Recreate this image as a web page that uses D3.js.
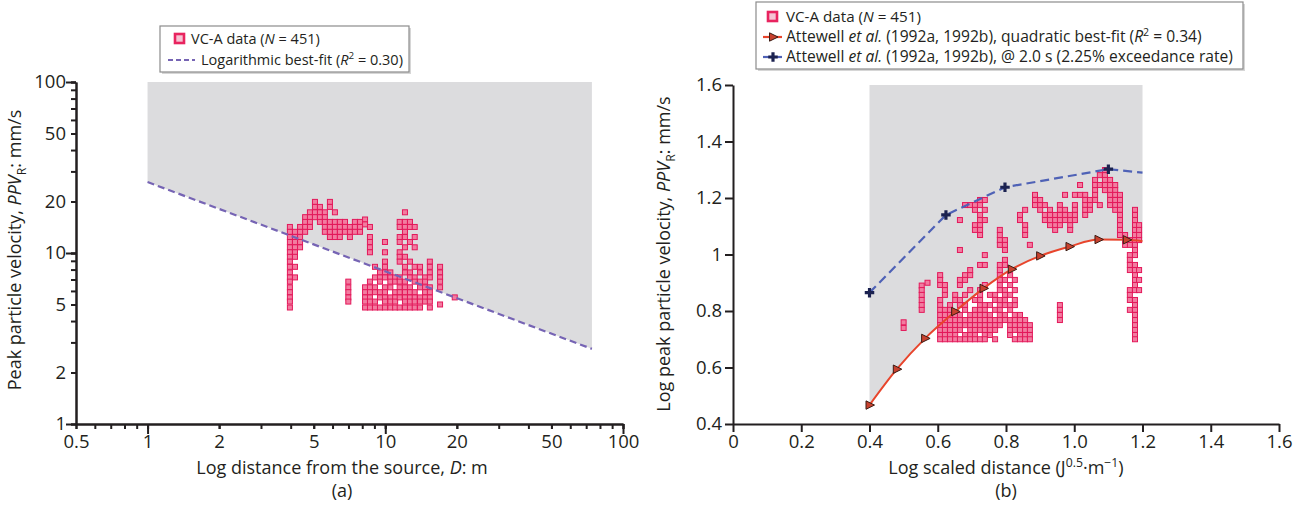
<!DOCTYPE html>
<html><head><meta charset="utf-8">
<script src="https://cdn.jsdelivr.net/npm/d3@7"></script>
<style>
body{margin:0;background:#fff;}
svg{font-family:"Open Sans",sans-serif;}
</style></head><body>
<svg id="c" width="1301" height="508"></svg>
<script>
// ---------- DATA ----------
const leftXTicks = [0.5, 1, 2, 5, 10, 20, 50, 100];
const leftYTicks = [1, 2, 5, 10, 20, 50, 100];
const rightXTicks = [0, 0.2, 0.4, 0.6, 0.8, 1.0, 1.2, 1.4, 1.6];
const rightXLabels = ["0", "0.2", "0.4", "0.6", "0.8", "1.0", "1.2", "1.4", "1.6"];
const rightYTicks = [0.4, 0.6, 0.8, 1, 1.2, 1.4, 1.6];
const rightYLabels = ["0.4", "0.6", "0.8", "1", "1.2", "1.4", "1.6"];

// (a) logarithmic best fit end points [D, PPV]
const leftFit = [[1, 26], [74, 2.75]];
// (a) VC-A data grouped by distance column: [D, [PPV...]]
const leftColumns = [
  [3.97, [14.2, 13.3, 12.4, 11.6, 10.8, 10.1, 9.5, 8.9, 8.3, 7.7, 7.2, 6.8, 6.3, 5.9, 5.5, 5.2, 4.8]],
  [4.17, [13.3, 12.4, 11.6, 10.8, 10.1, 9.5, 8.3, 7.2]],
  [4.38, [14.2, 13.3, 12.4, 11.6, 10.8]],
  [4.60, [16.2, 15.2, 14.2, 13.3]],
  [4.82, [17.3, 16.2, 15.2, 14.2]],
  [5.06, [19.9, 18.6, 17.3, 16.2]],
  [5.31, [18.6, 17.3, 16.2, 15.2]],
  [5.57, [17.3, 16.2, 15.2, 14.2, 13.3]],
  [5.85, [19.9, 18.6, 15.2, 14.2, 13.3, 12.4]],
  [6.14, [17.3, 15.2, 14.2, 13.3, 12.4]],
  [6.44, [15.2, 14.2, 13.3, 12.4]],
  [6.77, [15.2, 14.2, 13.3]],
  [6.99, [6.8, 6.3, 5.9, 5.5, 5.2]],
  [7.10, [14.2, 13.3, 12.4]],
  [7.45, [15.2, 14.2, 13.3]],
  [7.83, [15.2, 14.2, 13.3]],
  [8.22, [15.7, 14.7, 6.3, 5.9, 5.5, 5.2, 4.8]],
  [8.62, [14.2, 12.4, 11.6, 10.8, 10.1, 6.8, 6.3, 5.9, 5.5, 5.2, 4.8]],
  [9.05, [8.3, 7.2, 6.3, 5.9, 5.2, 4.8]],
  [9.50, [7.7, 7.2, 6.8, 5.9, 5.5, 4.8]],
  [9.97, [11.6, 10.1, 8.9, 8.3, 7.7, 7.2, 6.3, 5.9, 5.5, 5.2, 4.8]],
  [10.5, [7.7, 7.2, 6.8, 6.3, 5.5, 5.2, 4.8]],
  [11.0, [7.2, 6.8, 5.9, 5.5, 5.2, 4.8]],
  [11.5, [15.2, 14.2, 12.4, 11.6, 10.1, 9.5, 8.9, 7.2, 6.8, 6.3, 5.9, 5.5, 4.8]],
  [12.1, [17.3, 15.2, 14.2, 13.3, 12.4, 10.8, 9.5, 8.3, 7.7, 6.8, 6.3, 5.9, 5.5, 5.2, 4.8]],
  [12.7, [15.2, 14.2, 11.6, 8.9, 7.7, 7.2, 6.3, 5.9, 5.5, 5.2, 4.8]],
  [13.3, [14.2, 12.4, 10.8, 8.3, 7.2, 6.8, 5.9, 5.5, 5.2, 4.8]],
  [14.0, [8.3, 7.7, 6.8, 6.3, 5.5, 5.2, 4.8]],
  [14.7, [7.2, 6.8, 6.3, 5.9, 5.5, 5.2]],
  [15.4, [8.9, 8.3, 7.7, 7.2, 6.3, 5.9, 5.5, 5.2, 4.8]],
  [17.0, [8.3, 7.7, 7.2, 6.8, 6.3, 5.0]],
  [19.6, [5.5]]
];

// (b) Attewell quadratic best fit (markers) and end point
const quadFit = [[0.4, 0.467], [0.48, 0.594], [0.563, 0.703], [0.651, 0.798], [0.734, 0.88],
  [0.817, 0.948], [0.9, 0.995], [0.986, 1.028], [1.071, 1.053], [1.154, 1.052], [1.2, 1.047]];
const quadMarkers = 10; // first 10 points carry markers
// (b) Attewell @ 2.0 s (2.25% exceedance)
const exceed = [[0.4, 0.865], [0.624, 1.14], [0.797, 1.238], [1.1, 1.302], [1.2, 1.29]];
const exceedMarkers = 4;
// (b) VC-A data grouped by scaled-distance column: [x, [logPPV...]]
const rightColumns = [
  [0.50, [0.76, 0.74]],
  [0.553, [0.89, 0.874, 0.857, 0.839, 0.821, 0.804]],
  [0.57, [0.90]],
  [0.607, [0.927, 0.91, 0.892, 0.839, 0.821, 0.804, 0.786, 0.768, 0.75, 0.733, 0.715, 0.70]],
  [0.621, [0.892, 0.874, 0.857, 0.804, 0.786, 0.768, 0.75, 0.733, 0.715, 0.70]],
  [0.636, [0.821, 0.804, 0.786, 0.768, 0.75, 0.733, 0.715, 0.70]],
  [0.651, [0.857, 0.839, 0.786, 0.768, 0.75, 0.733, 0.715, 0.70]],
  [0.665, [1.122, 1.016, 0.91, 0.892, 0.839, 0.821, 0.786, 0.768, 0.75, 0.733, 0.70]],
  [0.68, [1.175, 0.927, 0.91, 0.857, 0.821, 0.804, 0.768, 0.75, 0.715, 0.70]],
  [0.695, [1.175, 0.945, 0.927, 0.874, 0.786, 0.768, 0.75, 0.733, 0.715, 0.70]],
  [0.709, [1.175, 1.158, 1.104, 1.087, 0.839, 0.804, 0.786, 0.768, 0.75, 0.733, 0.715, 0.70]],
  [0.724, [1.193, 1.175, 1.14, 1.122, 1.104, 1.087, 1.069, 0.963, 0.874, 0.857, 0.839, 0.821, 0.804, 0.786, 0.768, 0.75, 0.733, 0.70]],
  [0.738, [1.193, 1.158, 1.122, 0.998, 0.963, 0.892, 0.821, 0.804, 0.786, 0.768, 0.75, 0.733, 0.715, 0.70]],
  [0.753, [0.857, 0.821, 0.786, 0.768, 0.75, 0.733, 0.715]],
  [0.768, [0.857, 0.839, 0.804, 0.768, 0.75, 0.733, 0.70]],
  [0.782, [1.087, 1.069, 1.051, 1.034, 0.963, 0.945, 0.927, 0.91, 0.892, 0.874, 0.839, 0.821, 0.804, 0.786, 0.768, 0.75]],
  [0.797, [1.051, 1.034, 1.016, 0.981, 0.963, 0.91, 0.874, 0.857, 0.839, 0.821, 0.786, 0.768]],
  [0.812, [0.927, 0.892, 0.857, 0.821, 0.804, 0.768, 0.75, 0.733, 0.715]],
  [0.826, [0.91, 0.874, 0.839, 0.821, 0.786, 0.768, 0.75, 0.733, 0.70]],
  [0.841, [1.14, 1.122, 0.786, 0.768, 0.75, 0.733, 0.715, 0.70]],
  [0.856, [1.158, 1.104, 1.087, 1.069, 0.768, 0.75, 0.733, 0.715, 0.70]],
  [0.87, [1.034, 0.75, 0.733, 0.715, 0.70]],
  [0.885, [1.211, 1.193, 1.175]],
  [0.90, [1.193, 1.175, 1.158]],
  [0.914, [1.175, 1.14, 1.122]],
  [0.929, [1.158, 1.14, 1.122, 1.104]],
  [0.944, [1.14, 1.122, 1.104, 1.087]],
  [0.958, [1.175, 1.158, 1.14, 1.122, 1.104, 0.821, 0.804, 0.786, 0.768]],
  [0.973, [1.211, 1.158, 1.14, 1.122]],
  [0.988, [1.14, 1.122, 1.104, 1.087]],
  [1.002, [1.211, 1.175, 1.158, 1.14, 1.122]],
  [1.017, [1.246, 1.211]],
  [1.032, [1.211, 1.193, 1.175, 1.158, 1.14]],
  [1.046, [1.193, 1.175, 1.158]],
  [1.061, [1.264, 1.246, 1.228, 1.211, 1.193]],
  [1.075, [1.281, 1.246, 1.175]],
  [1.090, [1.299, 1.281, 1.264, 1.246, 1.228]],
  [1.105, [1.264, 1.246, 1.228, 1.211, 1.193, 1.175]],
  [1.120, [1.246, 1.228, 1.211, 1.193, 1.175, 1.158]],
  [1.134, [1.211, 1.193, 1.175, 1.158, 1.14, 1.122, 1.104, 1.087, 1.069]],
  [1.149, [1.069, 1.051, 1.034]],
  [1.163, [1.051, 1.034, 0.998, 0.981, 0.963, 0.945, 0.874, 0.857, 0.839, 0.804]],
  [1.178, [1.158, 1.14, 1.122, 1.104, 1.087, 1.069, 1.051, 1.034, 1.016, 0.998, 0.963, 0.945, 0.927, 0.91, 0.892, 0.874, 0.839, 0.821, 0.804, 0.786, 0.768, 0.75, 0.733, 0.715, 0.70]],
  [1.19, [1.104, 1.087, 1.069, 1.051, 0.945, 0.91, 0.874]]
];

// ---------- STYLE ----------
const INK = "#231f20";
const GRAY = "#dcdcde";
const PINK_STROKE = "#e3185a";
const PINK_FILL = "#f27ca0";

const svg = d3.select("#c");

function rich(g, x, y, parts, o) {
  const t = g.append("text").attr("x", x).attr("y", y)
    .attr("font-size", o.size).attr("fill", INK);
  if (o.anchor) t.attr("text-anchor", o.anchor);
  if (o.rotate) t.attr("transform", `rotate(-90,${x},${y})`);
  let shift = 0;
  parts.forEach(p => {
    const s = t.append("tspan").text(p.t);
    const target = p.s === "sup" ? -o.size * 0.38 : p.s === "sub" ? o.size * 0.28 : 0;
    if (target !== shift) { s.attr("dy", target - shift); shift = target; }
    if (p.s) s.attr("font-size", o.size * 0.68);
    if (p.i) s.attr("font-style", "italic");
  });
  return t;
}

function styleAxis(g) {
  g.select(".domain").attr("stroke", INK).attr("stroke-width", 2);
  g.selectAll(".tick line").attr("stroke", INK).attr("stroke-width", 2);
  g.selectAll(".tick text").attr("fill", INK).attr("font-size", 18.5)
    .attr("font-family", "'Open Sans',sans-serif");
}

// ================= PANEL (a) =================
const xL = d3.scaleLog().domain([0.5, 100]).range([76, 623]);
const yL = d3.scaleLog().domain([1, 100]).range([424, 82]);

// gray region above fit
svg.append("path")
  .attr("d", `M${xL(leftFit[0][0])},${yL(100)}L${xL(leftFit[1][0])},${yL(100)}L${xL(leftFit[1][0])},${yL(leftFit[1][1])}L${xL(leftFit[0][0])},${yL(leftFit[0][1])}Z`)
  .attr("fill", GRAY);

// scatter
const leftPts = leftColumns.flatMap(([d, arr]) => arr.map(v => [d, v]));
svg.append("g").selectAll("rect").data(leftPts).join("rect")
  .attr("x", d => xL(d[0]) - 2.5).attr("y", d => yL(d[1]) - 2.5)
  .attr("width", 5).attr("height", 5)
  .attr("fill", PINK_FILL).attr("stroke", PINK_STROKE).attr("stroke-width", 1);

// fit line
svg.append("path")
  .attr("d", d3.line().x(d => xL(d[0])).y(d => yL(d[1]))(leftFit))
  .attr("fill", "none").attr("stroke", "#7664b4").attr("stroke-width", 2.2)
  .attr("stroke-dasharray", "7,4");

// axes (a)
const lxMinor = svg.append("g").attr("transform", "translate(0,424)")
  .call(d3.axisBottom(xL).tickValues(xL.ticks()).tickSize(5).tickFormat("").tickSizeOuter(0));
styleAxis(lxMinor);
const lxMajor = svg.append("g").attr("transform", "translate(0,424)")
  .call(d3.axisBottom(xL).tickValues([1, 10, 100]).tickSize(10).tickFormat("").tickSizeOuter(0));
styleAxis(lxMajor);
const lxLab = svg.append("g").attr("transform", "translate(0,424)")
  .call(d3.axisBottom(xL).tickValues(leftXTicks).tickSize(5).tickPadding(6)
    .tickFormat(d => String(d)).tickSizeOuter(0));
styleAxis(lxLab);
lxLab.select(".domain").remove();

const lyMinor = svg.append("g").attr("transform", "translate(76,0)")
  .call(d3.axisLeft(yL).tickValues(yL.ticks()).tickSize(5).tickFormat("").tickSizeOuter(0));
styleAxis(lyMinor);
const lyMajor = svg.append("g").attr("transform", "translate(76,0)")
  .call(d3.axisLeft(yL).tickValues([1, 10, 100]).tickSize(10).tickFormat("").tickSizeOuter(0));
styleAxis(lyMajor);
const lyLab = svg.append("g").attr("transform", "translate(76,0)")
  .call(d3.axisLeft(yL).tickValues(leftYTicks).tickSize(5).tickPadding(5)
    .tickFormat(d => String(d)).tickSizeOuter(0));
styleAxis(lyLab);
lyLab.select(".domain").remove();

// titles (a)
rich(svg, 342, 474, [{t: "Log distance from the source, "}, {t: "D", i: 1}, {t: ": m"}], {size: 18, anchor: "middle"});
rich(svg, 342, 497, [{t: "(a)"}], {size: 18, anchor: "middle"});
rich(svg, 21, 250, [{t: "Peak particle velocity, "}, {t: "PPV", i: 1}, {t: "R", s: "sub"}, {t: ": mm/s"}], {size: 18, anchor: "middle", rotate: 1});

// legend (a)
const lgA = svg.append("g");
lgA.append("rect").attr("x", 162).attr("y", 28).attr("width", 249).attr("height", 46).attr("fill", "#d6d6d6");
lgA.append("rect").attr("x", 160).attr("y", 26).attr("width", 249).attr("height", 46)
  .attr("fill", "#fff").attr("stroke", "#8c8c8c").attr("stroke-width", 1.2);
lgA.append("rect").attr("x", 175).attr("y", 34).attr("width", 9).attr("height", 9)
  .attr("fill", "#f6c3d3").attr("stroke", "#e8245f").attr("stroke-width", 2.6);
rich(lgA, 191, 44, [{t: "VC-A data ("}, {t: "N", i: 1}, {t: " = 451)"}], {size: 14.5});
lgA.append("line").attr("x1", 168).attr("x2", 195).attr("y1", 60).attr("y2", 60)
  .attr("stroke", "#7664b4").attr("stroke-width", 2.2).attr("stroke-dasharray", "5,3");
rich(lgA, 201, 65, [{t: "Logarithmic best-fit ("}, {t: "R", i: 1}, {t: "2", s: "sup"}, {t: " = 0.30)"}], {size: 14.5});

// ================= PANEL (b) =================
const xR = d3.scaleLinear().domain([0, 1.6]).range([733, 1279]);
const yR = d3.scaleLinear().domain([0.4, 1.6]).range([424, 85]);

svg.append("path")
  .attr("d", d3.area().x(d => xR(d[0])).y0(yR(1.6)).y1(d => yR(d[1])).curve(d3.curveMonotoneX)(quadFit))
  .attr("fill", GRAY);

const rightPts = rightColumns.flatMap(([x, arr]) => arr.map(v => [x, v]));
svg.append("g").selectAll("rect").data(rightPts).join("rect")
  .attr("x", d => xR(d[0]) - 2.5).attr("y", d => yR(d[1]) - 2.5)
  .attr("width", 5).attr("height", 5)
  .attr("fill", PINK_FILL).attr("stroke", PINK_STROKE).attr("stroke-width", 1);

// quadratic fit curve
svg.append("path")
  .attr("d", d3.line().x(d => xR(d[0])).y(d => yR(d[1])).curve(d3.curveMonotoneX)(quadFit))
  .attr("fill", "none").attr("stroke", "#e8452c").attr("stroke-width", 2);
const triPath = "M-3.5,-4.2L5,0L-3.5,4.2Z";
svg.append("g").selectAll("path").data(quadFit.slice(0, quadMarkers)).join("path")
  .attr("transform", d => `translate(${xR(d[0])},${yR(d[1])})`)
  .attr("d", triPath).attr("fill", "#c8412e").attr("stroke", "#3b1c14").attr("stroke-width", 1);

// exceedance line
svg.append("path")
  .attr("d", d3.line().x(d => xR(d[0])).y(d => yR(d[1]))(exceed))
  .attr("fill", "none").attr("stroke", "#4f62b6").attr("stroke-width", 2.2)
  .attr("stroke-dasharray", "9,5");
svg.append("g").selectAll("path").data(exceed.slice(0, exceedMarkers)).join("path")
  .attr("transform", d => `translate(${xR(d[0])},${yR(d[1])})`)
  .attr("d", d3.symbol(d3.symbolCross, 50)()).attr("fill", "#1b2250");

// axes (b)
const rx = svg.append("g").attr("transform", "translate(0,424)")
  .call(d3.axisBottom(xR).tickValues(rightXTicks).tickSize(8).tickPadding(3)
    .tickFormat((d, i) => rightXLabels[i]).tickSizeOuter(0));
styleAxis(rx);
const ry = svg.append("g").attr("transform", "translate(733,0)")
  .call(d3.axisLeft(yR).tickValues(rightYTicks).tickSize(8).tickPadding(3)
    .tickFormat((d, i) => rightYLabels[i]).tickSizeOuter(0));
styleAxis(ry);

rich(svg, 1006, 474, [{t: "Log scaled distance (J"}, {t: "0.5", s: "sup"}, {t: "·m"}, {t: "−1", s: "sup"}, {t: ")"}], {size: 18, anchor: "middle"});
rich(svg, 1006, 497, [{t: "(b)"}], {size: 18, anchor: "middle"});
rich(svg, 670, 254, [{t: "Log peak particle velocity, "}, {t: "PPV", i: 1}, {t: "R", s: "sub"}, {t: ": mm/s"}], {size: 18, anchor: "middle", rotate: 1});

// legend (b)
const lgB = svg.append("g");
lgB.append("rect").attr("x", 758).attr("y", 4).attr("width", 487).attr("height", 67).attr("fill", "#d6d6d6");
lgB.append("rect").attr("x", 756).attr("y", 2).attr("width", 487).attr("height", 67)
  .attr("fill", "#fff").attr("stroke", "#8c8c8c").attr("stroke-width", 1.2);
lgB.append("rect").attr("x", 768).attr("y", 12).attr("width", 9).attr("height", 9)
  .attr("fill", "#f6c3d3").attr("stroke", "#e8245f").attr("stroke-width", 2.6);
rich(lgB, 786, 22, [{t: "VC-A data ("}, {t: "N", i: 1}, {t: " = 451)"}], {size: 15.2});
lgB.append("line").attr("x1", 763).attr("x2", 782).attr("y1", 37).attr("y2", 37)
  .attr("stroke", "#e8452c").attr("stroke-width", 2.2);
lgB.append("path").attr("transform", "translate(773,37)").attr("d", triPath)
  .attr("fill", "#c8412e").attr("stroke", "#3b1c14").attr("stroke-width", 1);
rich(lgB, 786, 42, [{t: "Attewell "}, {t: "et al.", i: 1}, {t: " (1992a, 1992b), quadratic best-fit ("}, {t: "R", i: 1}, {t: "2", s: "sup"}, {t: " = 0.34)"}], {size: 15.6});
lgB.append("line").attr("x1", 763).attr("x2", 782).attr("y1", 57).attr("y2", 57)
  .attr("stroke", "#4f62b6").attr("stroke-width", 2.2);
lgB.append("path").attr("transform", "translate(773,57)")
  .attr("d", d3.symbol(d3.symbolCross, 50)()).attr("fill", "#1b2250");
rich(lgB, 786, 62, [{t: "Attewell "}, {t: "et al.", i: 1}, {t: " (1992a, 1992b), @ 2.0 s (2.25% exceedance rate)"}], {size: 15.6});
</script>
</body></html>
